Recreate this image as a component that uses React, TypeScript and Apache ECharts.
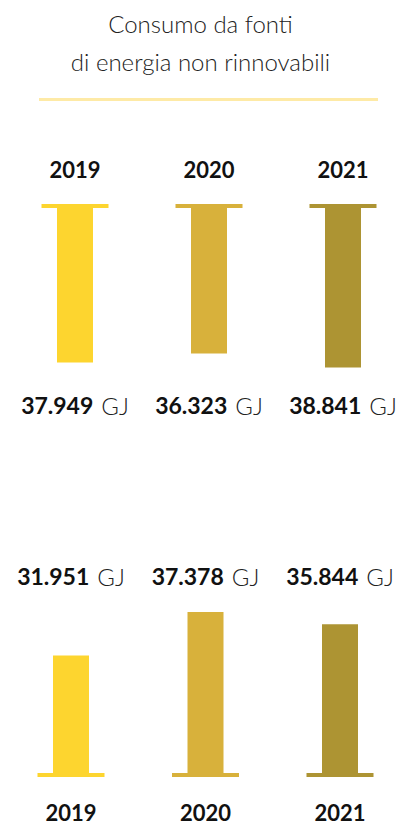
import React, { useEffect, useRef } from "react";
import * as echarts from "echarts";

const titleLines = ["Consumo da fonti", "di energia non rinnovabili"];
const years = ["2019", "2020", "2021"];
const consumptionTop = [37949, 36323, 38841];
const consumptionBottom = [31951, 37378, 35844];
const unit = "GJ";
const colors = ["#FDD52F", "#D8B13B", "#AD9433"];

const TOP_MIN = 10000;
const TOP_MAX = 40000;
const BOT_MIN = 17000;
const BOT_MAX = 38250;
const FONT = "Lato";

const fmt = (v: number) =>
  Math.floor(v / 1000) + "." + String(v % 1000).padStart(3, "0");

const valueLabel = {
  interval: 0,
  fontFamily: FONT,
  formatter: (v: string) => `{b|${v}}{u|${unit}}`,
  rich: {
    b: { fontFamily: FONT, fontWeight: "bold", fontSize: 23, color: "#111" },
    u: {
      fontFamily: FONT,
      fontWeight: 300,
      fontSize: 24,
      color: "#222",
      padding: [0, 0, 0, 8],
    },
  },
};

const yearLabel = {
  interval: 0,
  fontFamily: FONT,
  fontWeight: "bold",
  fontSize: 22,
  color: "#111",
};

const hiddenAxisParts = {
  axisLine: { show: false },
  axisTick: { show: false },
  splitLine: { show: false },
};

function capSeries(xAxisIndex: number, yAxisIndex: number, base: number) {
  return {
    type: "custom",
    xAxisIndex,
    yAxisIndex,
    silent: true,
    z: 5,
    data: years.map((_, i) => [i, base]),
    renderItem: (_params: any, api: any) => {
      const i = api.value(0);
      const p = api.coord([i, api.value(1)]);
      return {
        type: "rect",
        shape: { x: p[0] - 33.5, y: p[1] - 2, width: 67, height: 4 },
        style: { fill: colors[i] },
      };
    },
  };
}

export default function App() {
  const ref = useRef<HTMLDivElement>(null);
  useEffect(() => {
    if (!ref.current) return;
    const chart = echarts.init(ref.current, undefined, { renderer: "svg" });
    const option: any = {
      animation: false,
      backgroundColor: "#ffffff",
      title: {
        text: titleLines.join("\n"),
        left: "center",
        top: 4,
        padding: 0,
        textStyle: {
          fontFamily: FONT,
          fontWeight: 300,
          fontSize: 24,
          lineHeight: 38,
          color: "#222",
        },
      },
      graphic: [
        {
          type: "line",
          shape: { x1: 39, y1: 99.5, x2: 378, y2: 99.5 },
          style: { stroke: "#FEEAA6", lineWidth: 3 },
        },
      ],
      grid: [
        { left: 75, right: 58, top: 206, height: 168 },
        { left: 71, right: 61, top: 605, height: 170 },
      ],
      xAxis: [
        {
          gridIndex: 0,
          type: "category",
          position: "top",
          data: years,
          boundaryGap: false,
          ...hiddenAxisParts,
          axisLabel: { ...yearLabel, margin: 26 },
        },
        {
          gridIndex: 0,
          type: "category",
          position: "bottom",
          data: consumptionTop.map(fmt),
          boundaryGap: false,
          ...hiddenAxisParts,
          axisLabel: { ...valueLabel, margin: 19 },
        },
        {
          gridIndex: 1,
          type: "category",
          position: "top",
          data: consumptionBottom.map(fmt),
          boundaryGap: false,
          ...hiddenAxisParts,
          axisLabel: { ...valueLabel, margin: 17 },
        },
        {
          gridIndex: 1,
          type: "category",
          position: "bottom",
          data: years,
          boundaryGap: false,
          ...hiddenAxisParts,
          axisLabel: { ...yearLabel, margin: 26 },
        },
      ],
      yAxis: [
        {
          gridIndex: 0,
          type: "value",
          inverse: true,
          min: TOP_MIN,
          max: TOP_MAX,
          show: false,
        },
        {
          gridIndex: 1,
          type: "value",
          min: BOT_MIN,
          max: BOT_MAX,
          show: false,
        },
      ],
      series: [
        {
          type: "bar",
          xAxisIndex: 0,
          yAxisIndex: 0,
          barWidth: 36,
          data: consumptionTop.map((v, i) => ({
            value: v,
            itemStyle: { color: colors[i] },
          })),
        },
        capSeries(0, 0, TOP_MIN),
        {
          type: "bar",
          xAxisIndex: 3,
          yAxisIndex: 1,
          barWidth: 36,
          data: consumptionBottom.map((v, i) => ({
            value: v,
            itemStyle: { color: colors[i] },
          })),
        },
        capSeries(3, 1, BOT_MIN),
      ],
    };
    chart.setOption(option);
    return () => chart.dispose();
  }, []);
  return (
    <div
      ref={ref}
      style={{ position: "fixed", left: 0, top: 0, width: 401, height: 824 }}
    />
  );
}
